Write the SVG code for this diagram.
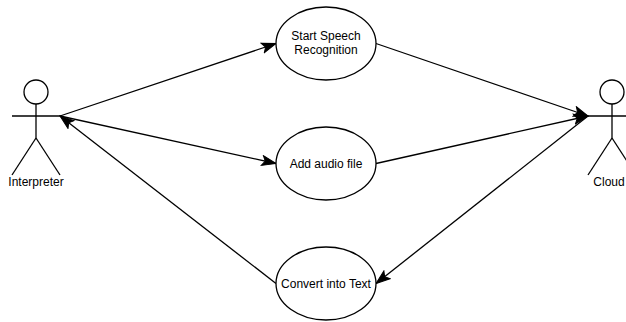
<svg xmlns="http://www.w3.org/2000/svg" width="626" height="322" viewBox="0 0 626 322">
<style>
.ln{stroke:#000;stroke-width:1.3;fill:none}
.uc{fill:#fff;stroke:#000;stroke-width:1.3}
.t{font-family:"Liberation Sans",Arial,sans-serif;font-size:12px;fill:#000;text-anchor:middle}
</style>
<defs>
<marker id="arr" markerUnits="userSpaceOnUse" markerWidth="16" markerHeight="12" viewBox="0 0 16 12" refX="15" refY="6" orient="auto">
<path d="M1,1 L15,6 L1,11 L4,6 Z" fill="#000" stroke="#000" stroke-width="1"/>
</marker>
</defs>
<rect width="626" height="322" fill="#fff"/>
<g id="connectors">
<line class="ln" x1="60" y1="116" x2="276" y2="43.5" marker-end="url(#arr)"/>
<line class="ln" x1="60" y1="116" x2="276" y2="163.5" marker-end="url(#arr)"/>
<line class="ln" x1="276" y1="283.5" x2="60" y2="116" marker-end="url(#arr)"/>
<line class="ln" x1="376" y1="43.5" x2="588" y2="116" marker-end="url(#arr)"/>
<line class="ln" x1="376" y1="163.5" x2="588" y2="116" marker-end="url(#arr)"/>
<line class="ln" x1="588" y1="116" x2="376" y2="283.5" marker-end="url(#arr)"/>
</g>
<g id="interpreter">
<circle class="ln" cx="36" cy="92" r="12"/>
<line class="ln" x1="36" y1="104" x2="36" y2="138"/>
<line class="ln" x1="12" y1="116" x2="60" y2="116"/>
<line class="ln" x1="36" y1="138" x2="12" y2="175"/>
<line class="ln" x1="36" y1="138" x2="60" y2="175"/>
<text class="t" x="36" y="186">Interpreter</text>
</g>
<g id="cloud">
<circle class="ln" cx="612" cy="92" r="12"/>
<line class="ln" x1="612" y1="104" x2="612" y2="138"/>
<line class="ln" x1="588" y1="116" x2="636" y2="116"/>
<line class="ln" x1="612" y1="138" x2="588" y2="175"/>
<line class="ln" x1="612" y1="138" x2="636" y2="175"/>
<text class="t" x="609" y="186">Cloud</text>
</g>
<g id="start-speech">
<ellipse class="uc" cx="326" cy="43.5" rx="50" ry="36.5"/>
<text class="t" x="326" y="40">Start Speech</text>
<text class="t" x="326" y="54">Recognition</text>
</g>
<g id="add-audio">
<ellipse class="uc" cx="326" cy="163.5" rx="50" ry="36.5"/>
<text class="t" x="326" y="168">Add audio file</text>
</g>
<g id="convert-text">
<ellipse class="uc" cx="326" cy="283.5" rx="50" ry="36.5"/>
<text class="t" x="326" y="288">Convert into Text</text>
</g>
</svg>
